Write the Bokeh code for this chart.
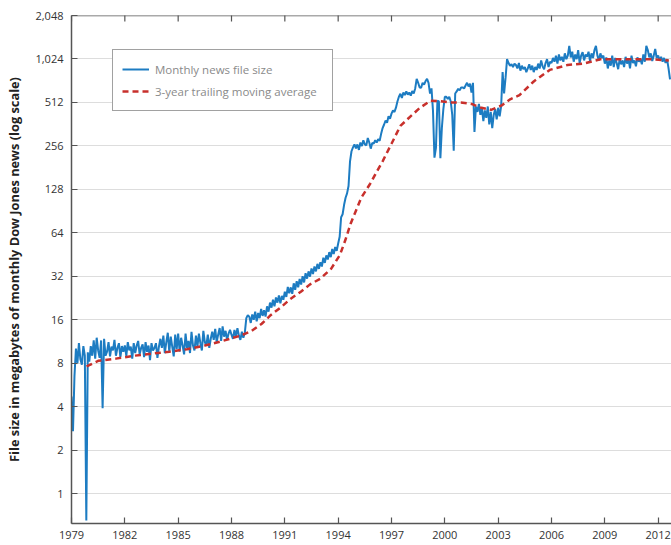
import math
from bokeh.plotting import figure
from bokeh.models import (FixedTicker, NumeralTickFormatter, Range1d, Span,
                          ColumnDataSource, Legend, LegendItem)
from bokeh.embed import file_html
from bokeh.resources import INLINE

start_year = 1979

# Monthly news file size (MB), Jan 1979 .. Sep 2012, one row per year
monthly_mb = [
    4.7, 2.7, 6.5, 10.1, 8.0, 11.0, 8.5, 7.8, 10.5, 9.0, 0.65, 9.5,          # 1979
    8.2, 10.5, 9.0, 11.5, 8.6, 12.0, 9.8, 8.7, 11.5, 3.9, 11.8, 9.0,          # 1980
    9.6, 11.2, 8.9, 10.4, 9.8, 11.6, 9.0, 10.2, 11.0, 8.8, 10.5, 9.6,         # 1981
    10.6, 9.0, 11.2, 9.8, 10.4, 8.6, 11.0, 9.4, 10.6, 11.4, 9.2, 10.2,        # 1982
    10.8, 8.8, 11.2, 9.6, 10.6, 8.4, 11.0, 9.8, 10.2, 11.0, 8.7, 10.4,        # 1983
    11.8, 10.2, 12.4, 9.4, 11.2, 13.0, 9.6, 12.2, 10.4, 8.9, 12.6, 10.0,      # 1984
    12.8, 9.6, 12.0, 10.6, 9.2, 12.8, 10.2, 11.4, 9.4, 13.2, 10.6, 9.8,       # 1985
    12.4, 10.4, 12.8, 11.0, 9.8, 13.4, 11.2, 10.6, 12.6, 10.2, 11.8, 13.2,    # 1986
    11.6, 13.8, 11.2, 12.6, 14.0, 11.4, 14.4, 12.2, 13.4, 11.6, 12.8, 13.6,   # 1987
    12.6, 11.8, 13.6, 12.2, 14.0, 12.4, 11.6, 13.2, 12.0, 13.0, 16.4, 17.2,   # 1988
    16.8, 15.2, 17.4, 16.0, 18.2, 15.6, 17.8, 16.4, 19.0, 17.0, 18.6, 16.8,   # 1989
    19.8, 18.2, 21.0, 19.4, 22.0, 19.8, 22.8, 21.0, 23.6, 20.8, 23.4, 22.0,   # 1990
    25.0, 23.0, 27.0, 24.4, 26.8, 24.2, 28.6, 25.8, 29.6, 26.8, 30.6, 28.0,   # 1991
    32.0, 29.0, 33.6, 30.8, 34.6, 31.8, 36.2, 33.2, 37.4, 34.6, 39.0, 36.0,   # 1992
    40.0, 37.4, 43.0, 39.6, 44.6, 41.8, 47.0, 43.4, 49.4, 45.6, 51.0, 48.0,   # 1993
    54.0, 60.0, 82.0, 86.0, 100.0, 112.0, 120.0, 135.0, 200.0, 235.0, 250.0, 262.0,  # 1994
    246, 262, 240, 270, 255, 280, 262, 258, 290, 270, 245, 268,               # 1995
    265, 280, 270, 285, 278, 310, 340, 360, 383, 370, 410, 395,               # 1996
    428, 450, 440, 471, 520, 560, 588, 550, 600, 575, 610, 580,               # 1997
    600, 570, 615, 590, 640, 746, 700, 650, 648, 700, 680, 720,               # 1998
    746, 700, 590, 640, 449, 212, 248, 526, 520, 210, 342, 460,               # 1999
    560, 560, 540, 560, 520, 420, 237, 590, 610, 636, 620, 650,               # 2000
    650, 640, 670, 700, 660, 690, 600, 700, 320, 480, 440, 500,               # 2001
    420, 470, 380, 450, 400, 480, 360, 440, 340, 420, 460, 390,               # 2002
    470, 410, 480, 830, 590, 760, 1020, 960, 920, 940, 900, 950,              # 2003
    930, 880, 960, 850, 920, 870, 900, 830, 880, 940, 860, 920,               # 2004
    830, 900, 860, 950, 880, 1000, 910, 870, 960, 1020, 900, 980,             # 2005
    960, 1040, 980, 1080, 950, 1100, 1000, 1060, 980, 1120, 1020, 1080,       # 2006
    1260, 1050, 1150, 980, 1100, 1020, 1180, 960, 1080, 1140, 1000, 1100,     # 2007
    1060, 1150, 990, 1120, 1040, 1180, 1260, 1080, 1000, 1120, 1040, 1080,    # 2008
    950, 1050, 880, 1000, 920, 1080, 900, 1040, 960, 870, 1020, 940,          # 2009
    1000, 900, 1060, 950, 1020, 880, 1080, 960, 1000, 910, 1050, 980,         # 2010
    1020, 940, 1100, 980, 1260, 1180, 1050, 1120, 990, 1080, 1200, 1040,      # 2011
    1080, 1000, 1060, 980, 1040, 960, 1020, 880, 740,                         # 2012
]

# 3-year trailing moving average (MB) read at selected dates
ma_year = [1979.85, 1980.5, 1981.5, 1982.5, 1983.5, 1984.5, 1985.5, 1986.5, 1987.5,
           1988.5, 1989.1, 1989.7, 1990.2, 1990.8, 1991.3, 1991.9, 1992.4, 1993.0,
           1993.6, 1994.1, 1994.4, 1994.7, 1995.0, 1995.3, 1995.8, 1996.2, 1996.5,
           1997.0, 1997.5, 1998.1, 1998.6, 1999.2, 1999.7, 2000.3, 2000.9, 2001.5,
           2002.0, 2002.6, 2003.2, 2003.7, 2004.2, 2005.0, 2005.9, 2006.9, 2007.8,
           2008.75, 2009.7, 2010.6, 2011.6, 2012.6]
ma_mb = [7.6, 8.3, 8.6, 9.0, 9.3, 9.6, 10.0, 10.6, 11.4,
         12.4, 13.3, 15.0, 17.2, 19.6, 22.2, 25.0, 28.0, 30.8,
         36.0, 45.0, 56.8, 74.0, 91.0, 112.0, 140.0, 172.0, 200.0,
         265.0, 352.0, 413.0, 470.0, 526.0, 522.0, 512.0, 512.0, 500.0,
         472.0, 455.0, 488.0, 540.0, 575.0, 715.0, 860.0, 930.0, 950.0,
         1020.0, 1020.0, 1020.0, 1020.0, 1000.0]

x_ticks = [1979, 1982, 1985, 1988, 1991, 1994, 1997, 2000, 2003, 2006, 2009, 2012]
y_ticks = [1, 2, 4, 8, 16, 32, 64, 128, 256, 512, 1024, 2048]
y_top = 2048
y_bottom = 0.62

month_x = [start_year + i / 12 for i in range(len(monthly_mb))]

FONT = "Open Sans"
BLUE = "#1d7cc2"
RED = "#c8302c"
AXIS = "#555555"

p = figure(width=671, height=545, y_axis_type="log",
           x_range=Range1d(1979, 2012.75), y_range=Range1d(y_bottom, y_top),
           output_backend="svg", toolbar_location=None,
           min_border_left=71, min_border_right=0, min_border_top=15, min_border_bottom=22)
p.outline_line_color = None
p.background_fill_color = "white"
p.border_fill_color = "white"

p.xgrid.grid_line_color = None
p.ygrid.ticker = FixedTicker(ticks=y_ticks)
p.ygrid.grid_line_color = "#dddddd"
p.ygrid.grid_line_width = 1

src_m = ColumnDataSource(dict(x=month_x, y=monthly_mb))
src_a = ColumnDataSource(dict(x=ma_year, y=ma_mb))
r_m = p.line("x", "y", source=src_m, line_color=BLUE, line_width=2)
r_a = p.line("x", "y", source=src_a, line_color=RED, line_width=2.5, line_dash="6 4")

# axes styling
for ax in [p.xaxis[0], p.yaxis[0]]:
    ax.axis_line_color = AXIS
    ax.axis_line_width = 1.5
    ax.major_tick_line_color = AXIS
    ax.major_tick_line_width = 1.2
    ax.major_tick_in = 6
    ax.major_tick_out = 0
    ax.minor_tick_line_color = None
    ax.major_label_text_font = FONT
    ax.major_label_text_font_size = "11px"
    ax.major_label_text_color = "#333333"

p.xaxis.ticker = FixedTicker(ticks=x_ticks)
p.xaxis.major_label_standoff = 7
p.yaxis.ticker = FixedTicker(ticks=y_ticks)
p.yaxis.formatter = NumeralTickFormatter(format="0,0")
p.yaxis.major_label_standoff = 8
p.yaxis.axis_label = "File size in megabytes of monthly Dow Jones news (log scale)"
p.yaxis.axis_label_text_font = FONT
p.yaxis.axis_label_text_font_style = "bold"
p.yaxis.axis_label_text_font_size = "12.8px"
p.yaxis.axis_label_text_color = "#222222"
p.yaxis.axis_label_standoff = 9

# top frame line with inward ticks
p.add_layout(Span(location=y_top, dimension="width", line_color=AXIS, line_width=1.5))
p.scatter(x=x_ticks, y=[y_top] * len(x_ticks), marker="dash", angle=math.pi / 2,
          size=12, line_color=AXIS, line_width=1.2)

legend = Legend(items=[LegendItem(label="Monthly news file size", renderers=[r_m]),
                       LegendItem(label="3-year trailing moving average", renderers=[r_a])],
                location=(41, 412))
legend.label_text_font = FONT
legend.label_text_font_size = "11.5px"
legend.label_text_color = "#8a8a8a"
legend.border_line_color = "#444444"
legend.border_line_width = 1
legend.background_fill_color = "white"
legend.background_fill_alpha = 1
legend.glyph_width = 27
legend.glyph_height = 20
legend.label_height = 20
legend.label_width = 168
legend.label_standoff = 6
legend.padding = 9
legend.spacing = 2
legend.margin = 0
p.add_layout(legend, "center")

open("out.html", "w").write(file_html(p, INLINE))
